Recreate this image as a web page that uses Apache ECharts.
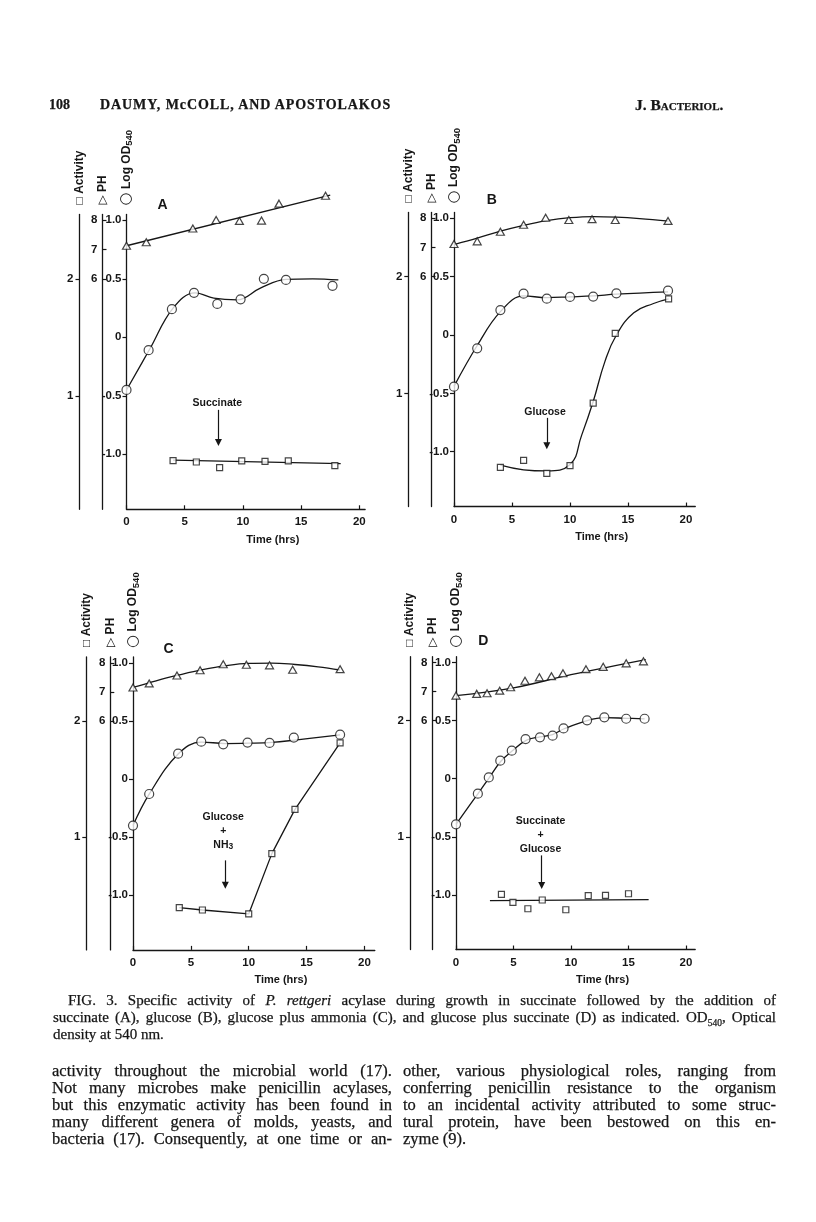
<!DOCTYPE html>
<html><head><meta charset="utf-8">
<script src="https://cdn.jsdelivr.net/npm/echarts@6/dist/echarts.min.js"></script>
<style>
html,body{margin:0;padding:0;background:#fff;}
#page{position:relative;width:816px;height:1222px;overflow:hidden;background:#fff;}
#chart{position:absolute;left:0;top:0;width:816px;height:1222px;}
.t{position:absolute;font-family:'Liberation Serif','Times New Roman',serif;color:#161616;white-space:nowrap;-webkit-text-stroke:0.25px #161616;}
.cap{font-size:15px;line-height:17px;}
.body{font-size:16.5px;line-height:17px;}
</style></head>
<body><div id="page"><div id="chart"></div>
<div class="t" style="left:49px;top:97px;font-size:14px;font-weight:bold;line-height:16px">108</div>
<div class="t" style="left:100px;top:97px;font-size:14px;line-height:16px;letter-spacing:0.9px;font-weight:bold">DAUMY, McCOLL, AND APOSTOLAKOS</div>
<div class="t" style="left:635px;top:97px;font-size:15.5px;line-height:16px;font-weight:bold;font-variant:small-caps">J. Bacteriol.</div>

<div class="t j cap" data-w="708" style="left:68px;top:992px">FIG. 3. Specific activity of <i>P. rettgeri</i> acylase during growth in succinate followed by the addition of</div>
<div class="t j cap" data-w="723" style="left:53px;top:1009px">succinate (A), glucose (B), glucose plus ammonia (C), and glucose plus succinate (D) as indicated. OD<sub style="font-size:9.5px;line-height:0">540</sub>, Optical</div>
<div class="t cap" style="left:53px;top:1026px">density at 540 nm.</div>

<div class="t j body" data-w="340" style="left:52px;top:1062px">activity throughout the microbial world (17).</div>
<div class="t j body" data-w="340" style="left:52px;top:1079px">Not many microbes make penicillin acylases,</div>
<div class="t j body" data-w="340" style="left:52px;top:1096px">but this enzymatic activity has been found in</div>
<div class="t j body" data-w="340" style="left:52px;top:1113px">many different genera of molds, yeasts, and</div>
<div class="t j body" data-w="340" style="left:52px;top:1130px">bacteria (17). Consequently, at one time or an-</div>
<div class="t j body" data-w="373" style="left:403px;top:1062px">other, various physiological roles, ranging from</div>
<div class="t j body" data-w="373" style="left:403px;top:1079px">conferring penicillin resistance to the organism</div>
<div class="t j body" data-w="373" style="left:403px;top:1096px">to an incidental activity attributed to some struc-</div>
<div class="t j body" data-w="373" style="left:403px;top:1113px">tural protein, have been bestowed on this en-</div>
<div class="t body" style="left:403px;top:1130px">zyme (9).</div>
</div>
<script>
// justify each printed line by word spacing
document.querySelectorAll('.j').forEach(el => {
  const target = parseFloat(el.dataset.w);
  el.style.wordSpacing = '0px';
  const w = el.getBoundingClientRect().width;
  const n = (el.textContent.match(/ /g) || []).length;
  if (n > 0) el.style.wordSpacing = ((target - w) / n) + 'px';
});

// ---------- tick labels ----------
const timeTicks = [0, 5, 10, 15, 20];
const odTicks = [-1, -0.5, 0, 0.5, 1];
const phTicks = [6, 7, 8];
const actTicks = [1, 2];
const panelLetters = ['A', 'B', 'C', 'D'];

// ---------- Panel A (succinate) ----------
const phA = [[0,7.13],[1.7,7.25],[5.7,7.72],[7.7,8.01],[9.7,7.98],[11.6,7.99],[13.1,8.57],[17.1,8.84]];
const phFitA = [[0,7.13],[17.5,8.86]];
const odA = [[0,-0.45],[1.9,-0.11],[3.9,0.24],[5.8,0.38],[7.8,0.285],[9.8,0.325],[11.8,0.5],[13.7,0.49],[17.7,0.44]];
const odFitA = [[0,-0.45],[2,-0.1],[4,0.25],[5.9,0.38],[7.5,0.335],[9.5,0.32],[11.5,0.42],[13.7,0.495],[16,0.5],[18.2,0.49]];
const actA = [[4,0.446],[6,0.434],[8,0.386],[9.9,0.443],[11.9,0.44],[13.9,0.443],[17.9,0.403]];
const actFitA = [[4,0.45],[18.4,0.42]];

// ---------- Panel B (glucose) ----------
const phB = [[0,7.12],[2,7.21],[4,7.54],[6,7.78],[7.9,8.02],[9.9,7.94],[11.9,7.97],[13.9,7.94],[18.45,7.91]];
const phFitB = [[0,7.1],[2,7.32],[4,7.56],[6,7.76],[8,7.92],[10,8.02],[12,8.06],[14,8.04],[16,7.99],[18.5,7.9]];
const odB = [[0,-0.443],[2,-0.114],[4,0.214],[6,0.354],[8,0.311],[10,0.326],[12,0.329],[14,0.357],[18.45,0.38]];
const odFitB = [[0,-0.44],[2,-0.09],[4,0.2],[6,0.335],[8,0.32],[10,0.327],[12,0.335],[14,0.35],[18.45,0.37]];
const actB = [[4,0.366],[6,0.426],[8,0.314],[10,0.38],[12,0.917],[13.9,1.514],[18.5,1.809]];
const actFitB = [[4,0.385],[6,0.345],[8,0.335],[10,0.39],[11,0.64],[12,0.93],[13,1.27],[14,1.5],[15.5,1.69],[17.2,1.77],[18.5,1.81]];

// ---------- Panel C (glucose + NH3) ----------
const phC = [[0,7.15],[1.4,7.29],[3.8,7.56],[5.8,7.74],[7.8,7.95],[9.8,7.93],[11.8,7.91],[13.8,7.76],[17.9,7.78]];
const phFitC = [[0,7.15],[2,7.38],[4,7.58],[6,7.76],[8,7.9],[10,7.98],[12,7.99],[14,7.94],[16,7.86],[17.9,7.75]];
const odC = [[0,-0.401],[1.4,-0.129],[3.9,0.218],[5.9,0.321],[7.8,0.298],[9.9,0.313],[11.8,0.31],[13.9,0.356],[17.9,0.381]];
const odFitC = [[0,-0.4],[1.4,-0.13],[3.9,0.215],[5.9,0.318],[8,0.305],[10,0.308],[12,0.315],[14,0.335],[17.9,0.38]];
const actC = [[4,0.393],[6,0.373],[10,0.339],[12,0.858],[14,1.239],[17.9,1.81]];
const actFitC = actC;

// ---------- Panel D (succinate + glucose) ----------
const phD = [[0,6.86],[1.8,6.92],[2.7,6.94],[3.8,7.03],[4.75,7.15],[6,7.37],[7.25,7.49],[8.3,7.53],[9.3,7.63],[11.3,7.77],[12.8,7.85],[14.8,7.97],[16.3,8.04]];
const phFitD = [[0,6.86],[5,7.13],[10,7.58],[16.5,8.1]];
const odD = [[0,-0.393],[1.9,-0.129],[2.85,0.011],[3.85,0.155],[4.85,0.241],[6.05,0.341],[7.3,0.356],[8.4,0.37],[9.35,0.433],[11.4,0.502],[12.9,0.528],[14.8,0.516],[16.4,0.516]];
const odFitD = [[0,-0.393],[1.9,-0.13],[2.9,0.01],[3.9,0.15],[4.9,0.24],[6.1,0.33],[7.3,0.36],[8.4,0.38],[9.4,0.43],[11.4,0.5],[12.9,0.525],[14.8,0.52],[16.4,0.515]];
const actD = [[3.95,0.504],[4.95,0.435],[6.25,0.381],[7.5,0.456],[9.55,0.372],[11.5,0.493],[13,0.496],[15,0.51]];
const actFitD = [[2.95,0.45],[16.75,0.46]];

// ---------- annotations (time, log OD units) ----------
const notes = [
  {text:'Succinate', t:7.8, od:-0.564, arrowT:7.9, from:-0.62, to:-0.9},
  {text:'Glucose', t:7.85, od:-0.657, arrowT:8.0, from:-0.71, to:-0.95},
  {text:'Glucose\n+\nNH{s|3}', t:7.8, od:-0.444, arrowT:7.98, from:-0.70, to:-0.915},
  {text:'Succinate\n+\nGlucose', t:7.35, od:-0.485, arrowT:7.45, from:-0.66, to:-0.92}
];
const letterPos = [[3.1,1.13],[3.25,1.157],[3.08,1.115],[2.38,1.18]];

// ---------- scale relations ----------
const ODMIN = -1.47, ODMAX = 1.05;
const toPh = od => 6 + (od - 0.5) * 4;
const toAct = od => od + 1.5;

// ---------- layout (pixels) ----------
const layout = [
  {originX:126.5, zeroY:337.3, pxOD:117, pxHr:11.64, xMax:20.5, offPh:24, offAct:47},
  {originX:454, zeroY:335, pxOD:116.7, pxHr:11.6, xMax:20.8, offPh:22.5, offAct:45.7},
  {originX:133, zeroY:779, pxOD:116.25, pxHr:11.57, xMax:20.9, offPh:22.7, offAct:46.7},
  {originX:456, zeroY:778.7, pxOD:116.2, pxHr:11.5, xMax:20.8, offPh:23.7, offAct:46}
];

const data = [
  {ph:phA, phFit:phFitA, od:odA, odFit:odFitA, act:actA, actFit:actFitA, actSmooth:false},
  {ph:phB, phFit:phFitB, od:odB, odFit:odFitB, act:actB, actFit:actFitB, actSmooth:0.45},
  {ph:phC, phFit:phFitC, od:odC, odFit:odFitC, act:actC, actFit:actFitC, actSmooth:false},
  {ph:phD, phFit:phFitD, od:odD, odFit:odFitD, act:actD, actFit:actFitD, actSmooth:false}
];

const INK = '#161616';
const SANS = "'Liberation Sans', Arial, 'DejaVu Sans', sans-serif";
const lab = {color:INK, fontFamily:SANS, fontWeight:'bold', fontSize:11.5};
const lineS = {color:INK, width:1.3};

const grids = [], xAxes = [], yAxes = [], series = [];
layout.forEach((L, i) => {
  grids.push({left:L.originX, top:L.zeroY - ODMAX * L.pxOD, width:L.xMax * L.pxHr,
              height:(ODMAX - ODMIN) * L.pxOD, containLabel:false, outerBoundsMode:'none'});
  xAxes.push({gridIndex:i, type:'value', min:0, max:L.xMax,
    axisLine:{show:true, onZero:false, lineStyle:lineS},
    axisTick:{show:true, inside:true, length:4, customValues:timeTicks, lineStyle:{color:INK, width:1.2}},
    axisLabel:Object.assign({customValues:timeTicks, margin:7}, lab),
    splitLine:{show:false},
    name:'Time (hrs)', nameLocation:'middle', nameGap:25, nameMoveOverlap:false,
    nameTextStyle:{color:INK, fontFamily:SANS, fontWeight:'bold', fontSize:11, padding:[0,0,0,54]}
  });
  const nameStyle = {color:INK, fontFamily:SANS, fontWeight:'bold', fontSize:12, lineHeight:16,
    rich:{
      s:{fontSize:9.5, fontFamily:SANS, fontWeight:'bold', color:INK, verticalAlign:'bottom', lineHeight:16},
      c:{fontSize:15, fontFamily:"'DejaVu Sans', sans-serif", color:INK, lineHeight:16}
    }};
  yAxes.push({gridIndex:i, type:'value', min:ODMIN, max:ODMAX, position:'left', offset:0,
    axisLine:{show:true, onZero:false, lineStyle:lineS},
    axisTick:{show:true, inside:false, length:4, customValues:odTicks, lineStyle:{color:INK, width:1.2}},
    axisLabel:Object.assign({customValues:odTicks, margin:5,
      formatter:v => (Math.abs(v) < 1e-9 ? '0' : v.toFixed(1))}, lab),
    splitLine:{show:false},
    name:'{c|○} Log OD{s|540}', nameLocation:'end', nameRotate:90, nameGap:9, nameMoveOverlap:false,
    nameTextStyle:nameStyle
  });
  yAxes.push({gridIndex:i, type:'value', min:toPh(ODMIN), max:toPh(ODMAX), position:'left', offset:L.offPh,
    axisLine:{show:true, onZero:false, lineStyle:lineS},
    axisTick:{show:true, inside:true, length:4, customValues:phTicks, lineStyle:{color:INK, width:1.2}},
    axisLabel:Object.assign({customValues:phTicks, margin:5}, lab),
    splitLine:{show:false},
    name:'▷ PH', nameLocation:'end', nameRotate:90, nameGap:10, nameMoveOverlap:false,
    nameTextStyle:nameStyle
  });
  yAxes.push({gridIndex:i, type:'value', min:toAct(ODMIN), max:toAct(ODMAX), position:'left', offset:L.offAct,
    axisLine:{show:true, onZero:false, lineStyle:lineS},
    axisTick:{show:true, inside:false, length:4, customValues:actTicks, lineStyle:{color:INK, width:1.2}},
    axisLabel:Object.assign({customValues:actTicks, margin:6}, lab),
    splitLine:{show:false},
    name:'□ Activity', nameLocation:'end', nameRotate:90, nameGap:10, nameMoveOverlap:false,
    nameTextStyle:nameStyle
  });

  const D = data[i], N = notes[i];
  const yOD = 3*i, yPH = 3*i+1, yACT = 3*i+2;
  const lineSeries = (d, yi, smooth) => ({type:'line', xAxisIndex:i, yAxisIndex:yi, data:d,
    smooth:smooth, symbol:'none', showSymbol:false, clip:false, silent:true, z:2,
    lineStyle:lineS, animation:false});
  const pts = (d, yi, sym, size) => ({type:'scatter', xAxisIndex:i, yAxisIndex:yi, data:d,
    symbol:sym, symbolSize:size, clip:false, silent:true, z:4, animation:false,
    itemStyle:{color:'#fff', borderColor:INK, borderWidth:1.2}});

  series.push(lineSeries(D.phFit, yPH, 0.4));
  series.push(lineSeries(D.odFit, yOD, 0.4));
  series.push(lineSeries(D.actFit, yACT, D.actSmooth));
  series.push(pts(D.ph, yPH, 'triangle', [8,7]));
  series.push(pts(D.act, yACT, 'rect', 6));
  const odPts = pts(D.od, yOD, 'circle', 9);
  odPts.markLine = {silent:true, animation:false, symbol:['none','triangle'], symbolSize:7,
    label:{show:false}, lineStyle:{color:INK, width:1.2, type:'solid'},
    itemStyle:{color:INK},
    data:[[{coord:[N.arrowT, N.from]}, {coord:[N.arrowT, N.to]}]]};
  odPts.markPoint = {silent:true, animation:false, symbol:'circle', symbolSize:1,
    itemStyle:{color:'rgba(0,0,0,0)'},
    label:{show:true, position:'inside', color:INK, fontFamily:SANS, fontWeight:'bold', fontSize:10.5, lineHeight:14, align:'center',
      rich:{s:{fontSize:8.5, fontFamily:SANS, fontWeight:'bold', color:INK, verticalAlign:'bottom', lineHeight:14, padding:[4,0,0,0]}}},
    data:[{coord:[N.t, N.od], value:0, label:{formatter:N.text}}]};
  series.push(odPts);
});

const chart = echarts.init(document.getElementById('chart'), null, {renderer:'canvas'});
chart.setOption({animation:false, backgroundColor:'transparent',
  grid:grids, xAxis:xAxes, yAxis:yAxes, series:series});

const graphics = letterPos.map((p, i) => {
  const px = chart.convertToPixel({xAxisIndex:i, yAxisIndex:3*i}, p);
  return {type:'text', x:px[0], y:px[1], silent:true,
    style:{text:panelLetters[i], fill:INK, font:"bold 14px 'Liberation Sans', Arial, sans-serif", align:'center', verticalAlign:'middle'}};
});
chart.setOption({graphic:graphics});
</script>
</body></html>
